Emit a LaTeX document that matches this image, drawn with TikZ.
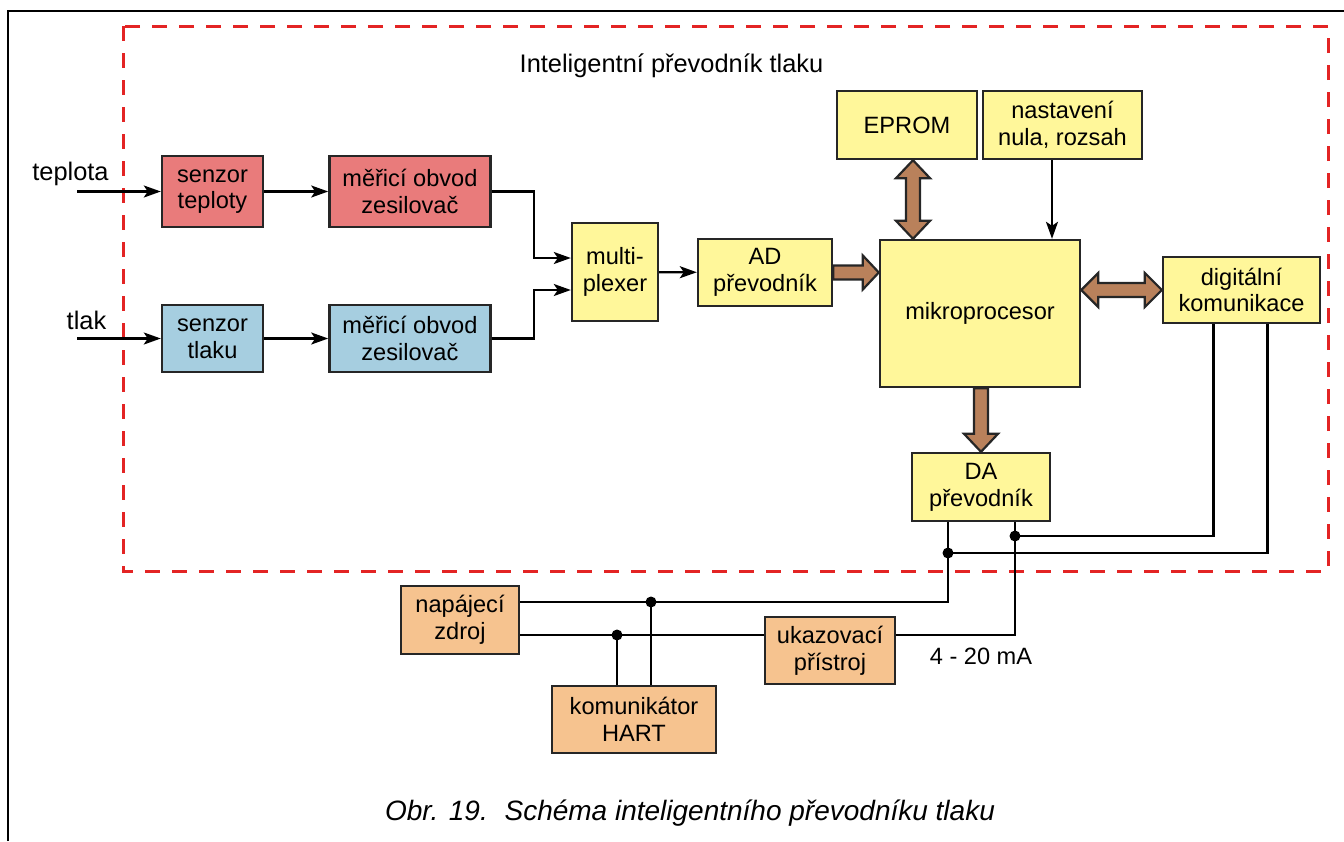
\documentclass[tikz,border=0pt]{standalone}
\usepackage{fontspec}
\setmainfont{Liberation Sans}
\usetikzlibrary{positioning,calc,arrows.meta}
\definecolor{redbox}{HTML}{E97B7B}
\definecolor{bluebox}{HTML}{A6CEE0}
\definecolor{yellowbox}{HTML}{FFF79A}
\definecolor{orangebox}{HTML}{F6C38F}
\definecolor{brownfat}{HTML}{B9815B}
\definecolor{dashred}{HTML}{E32424}

\begin{document}
\begin{tikzpicture}[
  x=0.5pt, y=-0.5pt,
  font=\fontsize{11.8}{13.4}\selectfont,
  box/.style={draw=black!85, line width=1.2pt, fill=#1, align=center, inner sep=1pt},
  box/.default=yellowbox,
  sig/.style={line width=1.1pt, -{Stealth[length=8.5pt, width=6pt, inset=2pt]}},
  wire/.style={line width=1.1pt},
  fat/.style={draw=black!85, line width=1.1pt, fill=brownfat, line join=miter},
  dot/.style={circle, fill, inner sep=0pt, minimum size=5.5pt},
  lbl/.style={anchor=base, font=\fontsize{12.7}{14}\selectfont},
  frame/.style={draw=dashred, line width=1.5pt, dash pattern=on 7.5pt off 6pt}
]
  \useasboundingbox (0,0) rectangle (1344,841);
  \draw[line width=1pt] (8,841) -- (8,11) -- (1344,11);
  \draw[frame] (123,26) rectangle (1328,571);

  \node[lbl] (title) at (671.5,72) {Inteligentní převodník tlaku};

  % senzory a obvody
  \node[box=redbox, minimum width=50.5pt, minimum height=35.5pt] (senzT) at (212.5,191.5) {senzor\\teploty};
  \node[box=redbox, minimum width=80.5pt, minimum height=35.5pt, right=32pt of senzT] (obvT) {měřicí obvod\\zesilovač};
  \node[box=bluebox, minimum width=50.5pt, minimum height=33.5pt] (senzP) at (212.5,338.5) {senzor\\tlaku};
  \node[box=bluebox, minimum width=80.5pt, minimum height=33.5pt, right=32pt of senzP] (obvP) {měřicí obvod\\zesilovač};

  \node[box, minimum width=43pt, minimum height=49pt] (mux) at (615,272) {multi-\\plexer};
  \node[box, minimum width=67pt, minimum height=33.5pt] (adc) at (765,272.5) {AD\\převodník};
  \node[box, minimum width=100pt, minimum height=73.5pt] (cpu) at (980,313.5) {mikroprocesor};
  \node[box, minimum width=70pt, minimum height=34pt] (eprom) at (907,125) {EPROM};
  \node[box, minimum width=79.5pt, minimum height=34pt] (nast) at (1062.5,125) {nastavení\\nula, rozsah};
  \node[box, minimum width=78.5pt, minimum height=33pt] (kom) at (1241.5,290) {digitální\\komunikace};
  \node[box, minimum width=69pt, minimum height=34pt] (dac) at (981,487) {DA\\převodník};

  % vnejsi obvod
  \node[box=orangebox, minimum width=59pt, minimum height=34pt] (zdroj) at (460,620) {napájecí\\zdroj};
  \node[box=orangebox, minimum width=65pt, minimum height=33.5pt] (ukaz) at (830,650.5) {ukazovací\\přístroj};
  \node[box=orangebox, minimum width=82pt, minimum height=33.5pt] (hart) at (634,719.5) {komunikátor\\HART};

  \coordinate (inT) at (77,191.5);
  \coordinate (inP) at (77,338.5);
  \node[lbl] (lblT) at (70.5,180) {teplota};
  \node[lbl] (lblP) at (86.5,329) {tlak};
  \draw[sig] (inT) -- (senzT);
  \draw[sig] (inP) -- (senzP);
  \draw[sig] (senzT) -- (obvT);
  \draw[sig] (senzP) -- (obvP);
  \draw[sig] (obvT.east) -- ++(21pt,0) |- ([yshift=7pt]mux.west);
  \draw[sig] (obvP.east) -- ++(21pt,0) |- ([yshift=-9pt]mux.west);
  \draw[sig] (mux) -- (adc);
  \draw[sig] ([xshift=-5.25pt]nast.south) -- ([xshift=-5.25pt]nast.south |- cpu.north);

  % sbernice
  \draw[fat] let \p1=(adc.east), \p2=(cpu.west) in
    (\x1,\y1+3.5pt) -- (\x2-8pt,\y1+3.5pt) -- (\x2-8pt,\y1+8.5pt) -- (\x2,\y1)
    -- (\x2-8pt,\y1-8.5pt) -- (\x2-8pt,\y1-3.5pt) -- (\x1,\y1-3.5pt) -- cycle;
  \draw[fat] let \p1=([xshift=3pt]eprom.south), \p2=(cpu.north) in
    (\x1,\y1) -- (\x1+8.5pt,\y1-9pt) -- (\x1+3.5pt,\y1-9pt) -- (\x1+3.5pt,\y2+9pt)
    -- (\x1+8.5pt,\y2+9pt) -- (\x1,\y2) -- (\x1-8.5pt,\y2+9pt) -- (\x1-3.5pt,\y2+9pt)
    -- (\x1-3.5pt,\y1-9pt) -- (\x1-8.5pt,\y1-9pt) -- cycle;
  \draw[fat] let \p1=(cpu.east |- kom.west), \p2=(kom.west) in
    (\x1,\y1) -- (\x1+8.5pt,\y1+8.5pt) -- (\x1+8.5pt,\y1+3.5pt) -- (\x2-8.5pt,\y1+3.5pt)
    -- (\x2-8.5pt,\y1+8.5pt) -- (\x2,\y1) -- (\x2-8.5pt,\y1-8.5pt) -- (\x2-8.5pt,\y1-3.5pt)
    -- (\x1+8.5pt,\y1-3.5pt) -- (\x1+8.5pt,\y1-8.5pt) -- cycle;
  \draw[fat] let \p1=(dac.north |- cpu.south), \p2=(dac.north) in
    (\x1-3.5pt,\y1) -- (\x1-3.5pt,\y2+9pt) -- (\x1-8.5pt,\y2+9pt) -- (\x2,\y2)
    -- (\x1+8.5pt,\y2+9pt) -- (\x1+3.5pt,\y2+9pt) -- (\x1+3.5pt,\y1) -- cycle;

  % proudova smycka
  \node[dot] (jA) at (1015,536) {};
  \node[dot] (jB) at (948,553) {};
  \node[dot] (jC) at (617,635) {};
  \node[dot] (jD) at (651,602) {};
  \draw[wire] ([xshift=-14pt]kom.south) |- (jA.center);
  \draw[wire] ([xshift=13pt]kom.south) |- (jB.center);
  \draw[wire] ([xshift=-16.5pt]dac.south) |- ([yshift=9pt]zdroj.east);
  \draw[wire] ([xshift=17pt]dac.south) |- ([yshift=7.75pt]ukaz.east);
  \draw[wire] ([yshift=-7.5pt]zdroj.east) -- ([yshift=7.75pt]ukaz.west);
  \draw[wire] (hart.north -| jC) -- (jC.center);
  \draw[wire] (hart.north -| jD) -- (jD.center);
  \node[anchor=base] (ma) at (981,664) {4 - 20 mA};

  \node[anchor=base, font=\fontsize{14}{16}\selectfont\itshape] (caption) at (690,820)
    {Obr. 19.\hspace{0.6em}Schéma inteligentního převodníku tlaku};
\end{tikzpicture}
\end{document}
